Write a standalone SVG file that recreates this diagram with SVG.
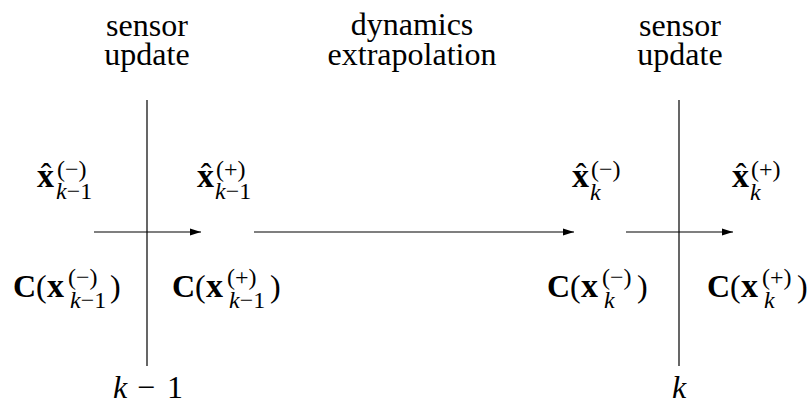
<svg xmlns="http://www.w3.org/2000/svg" width="811" height="404" viewBox="0 0 811 404">
<defs>
<style>
.stroke1{stroke:#000;stroke-width:1.2;fill:none}
</style>
<marker id="ah" markerUnits="userSpaceOnUse" markerWidth="12" markerHeight="10" refX="11" refY="5" orient="auto">
<path d="M0,1.6 L11,5 L0,8.4 Z" fill="#000"/>
</marker>
</defs>
<rect width="811" height="404" fill="#fff"/>
<g id="axes">
<line class="stroke1" x1="147" y1="100" x2="147" y2="366"/>
<line class="stroke1" x1="679" y1="100" x2="679" y2="366"/>
</g>
<g id="connectors">
<line class="stroke1" x1="94" y1="232" x2="201" y2="232" marker-end="url(#ah)"/>
<line class="stroke1" x1="254" y1="232" x2="574" y2="232" marker-end="url(#ah)"/>
<line class="stroke1" x1="626" y1="232" x2="733" y2="232" marker-end="url(#ah)"/>
</g>
<g font-family="Liberation Serif, serif" fill="#000">
<g id="title-sensor-1" font-size="32" text-anchor="middle">
<text x="147" y="36">sensor</text>
<text x="147" y="65">update</text>
</g>
<g id="title-dynamics" font-size="32" text-anchor="middle">
<text x="412" y="35">dynamics</text>
<text x="412" y="65">extrapolation</text>
</g>
<g id="title-sensor-2" font-size="32" text-anchor="middle">
<text x="680" y="36">sensor</text>
<text x="680" y="65">update</text>
</g>
<g id="xhat-km1-minus">
<text x="37" y="187" font-size="34" font-weight="bold">x</text>
<text x="46" y="185" font-size="32" text-anchor="middle">ˆ</text>
<text x="57" y="177" font-size="24">(−)</text>
<text x="56" y="199" font-size="24"><tspan font-style="italic">k</tspan>−1</text>
</g>
<g id="xhat-km1-plus">
<text x="197" y="187" font-size="34" font-weight="bold">x</text>
<text x="206" y="185" font-size="32" text-anchor="middle">ˆ</text>
<text x="216" y="177" font-size="24">(+)</text>
<text x="215" y="199" font-size="24"><tspan font-style="italic">k</tspan>−1</text>
</g>
<g id="xhat-k-minus">
<text x="572" y="187" font-size="34" font-weight="bold">x</text>
<text x="581" y="185" font-size="32" text-anchor="middle">ˆ</text>
<text x="591" y="177" font-size="24">(−)</text>
<text x="590" y="200" font-size="24" font-style="italic">k</text>
</g>
<g id="xhat-k-plus">
<text x="732" y="187" font-size="34" font-weight="bold">x</text>
<text x="741" y="185" font-size="32" text-anchor="middle">ˆ</text>
<text x="751" y="177" font-size="24">(+)</text>
<text x="750" y="200" font-size="24" font-style="italic">k</text>
</g>
<g id="cov-km1-minus" font-size="32">
<text x="13" y="297" font-weight="bold">C</text>
<text x="36" y="297">(</text>
<text x="47" y="297" font-weight="bold" font-size="34">x</text>
<text x="68" y="285" font-size="24">(−)</text>
<text x="70" y="308" font-size="24"><tspan font-style="italic">k</tspan>−1</text>
<text x="110" y="297">)</text>
</g>
<g id="cov-km1-plus" font-size="32">
<text x="172" y="297" font-weight="bold">C</text>
<text x="195" y="297">(</text>
<text x="206" y="297" font-weight="bold" font-size="34">x</text>
<text x="227" y="285" font-size="24">(+)</text>
<text x="229" y="308" font-size="24"><tspan font-style="italic">k</tspan>−1</text>
<text x="270" y="297">)</text>
</g>
<g id="cov-k-minus" font-size="32">
<text x="547" y="297" font-weight="bold">C</text>
<text x="570" y="297">(</text>
<text x="581" y="297" font-weight="bold" font-size="34">x</text>
<text x="602" y="285" font-size="24">(−)</text>
<text x="604" y="308" font-size="24" font-style="italic">k</text>
<text x="637" y="297">)</text>
</g>
<g id="cov-k-plus" font-size="32">
<text x="707" y="297" font-weight="bold">C</text>
<text x="730" y="297">(</text>
<text x="741" y="297" font-weight="bold" font-size="34">x</text>
<text x="762" y="285" font-size="24">(+)</text>
<text x="764" y="308" font-size="24" font-style="italic">k</text>
<text x="797" y="297">)</text>
</g>
<g id="index-km1" font-size="32">
<text x="113" y="398"><tspan font-style="italic">k</tspan><tspan x="137">−</tspan><tspan x="167">1</tspan></text>
</g>
<g id="index-k" font-size="32">
<text x="672" y="398" font-style="italic">k</text>
</g>
</g>
</svg>
